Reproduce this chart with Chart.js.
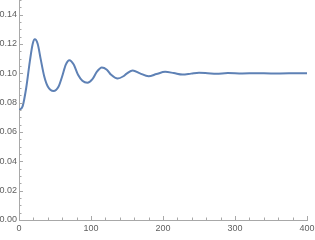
<!DOCTYPE html>
<html>
<head>
<meta charset="utf-8">
<script src="https://cdn.jsdelivr.net/npm/chart.js@4.4.1/dist/chart.umd.min.js"></script>
<style>
    html, body { margin: 0; padding: 0; background: #fff; }
    #wrap { width: 315px; height: 240px; }
</style>
</head>
<body>
<div id="wrap"><canvas id="plot"></canvas></div>
<script>
// Damped response
const timeValues = [0, 5, 10, 15, 19, 22, 26, 30, 35, 40, 48, 55, 60, 65, 70, 76, 82, 88, 95,
    102, 108, 115, 122, 128, 137, 145, 150, 158, 168, 180, 191, 203, 215, 227, 239, 250,
    262, 274, 290, 310, 330, 350, 375, 400];
const responseValues = [0.0750, 0.0775, 0.0900, 0.1080, 0.1200, 0.1232, 0.1200, 0.1100, 0.0980,
    0.0910, 0.0879, 0.0910, 0.0980, 0.1060, 0.1090, 0.1060, 0.0990, 0.0950, 0.0936,
    0.0960, 0.1010, 0.1040, 0.1025, 0.0990, 0.0964, 0.0980, 0.1000, 0.1020, 0.1000,
    0.0980, 0.0995, 0.1010, 0.1002, 0.0992, 0.0998, 0.1004, 0.1001, 0.0997, 0.1002,
    0.0999, 0.1001, 0.0999, 0.1000, 0.1000];

const xLabelStep = 100;
const xMinorStep = 20;
const yLabelStep = 0.02;
const yMinorStep = 0.005;

const axisGray = '#a8a8a8';
const labelGray = '#606060';

// Mathematica style ticks: drawn inward, major + minor
const inwardTicks = {
    id: 'inwardTicks',
    afterDraw(chart) {
        const ctx = chart.ctx;
        const area = chart.chartArea;
        const xs = chart.scales.x;
        const ys = chart.scales.y;
        ctx.save();
        ctx.strokeStyle = axisGray;
        ctx.lineWidth = 1;
        const nx = Math.round((xs.max - xs.min) / xMinorStep);
        for (let i = 0; i <= nx; i++) {
            const v = xs.min + i * xMinorStep;
            const major = Math.round(v) % xLabelStep === 0;
            const px = Math.round(xs.getPixelForValue(v)) + 0.5;
            ctx.beginPath();
            ctx.moveTo(px, area.bottom);
            ctx.lineTo(px, area.bottom - (major ? 4 : 2.5));
            ctx.stroke();
        }
        const ny = Math.round((ys.max - ys.min) / yMinorStep);
        for (let i = 0; i <= ny; i++) {
            const v = ys.min + i * yMinorStep;
            const major = Math.round(v * 1000) % Math.round(yLabelStep * 1000) === 0;
            const py = Math.round(ys.getPixelForValue(v)) + 0.5;
            ctx.beginPath();
            ctx.moveTo(area.left, py);
            ctx.lineTo(area.left + (major ? 4 : 2.5), py);
            ctx.stroke();
        }
        ctx.restore();
    }
};

const ctx = document.getElementById('plot').getContext('2d');
new Chart(ctx, {
    type: 'line',
    data: {
        datasets: [{
            data: timeValues.map((t, i) => ({ x: t, y: responseValues[i] })),
            borderColor: '#5e81b5',
            borderWidth: 2,
            pointRadius: 0,
            cubicInterpolationMode: 'monotone',
            fill: false
        }]
    },
    options: {
        responsive: true,
        maintainAspectRatio: false,
        animation: false,
        layout: { padding: 0, autoPadding: false },
        plugins: {
            legend: { display: false },
            tooltip: { enabled: false }
        },
        scales: {
            x: {
                type: 'linear',
                min: 0,
                max: 400,
                grid: { drawOnChartArea: false, drawTicks: false },
                border: { color: axisGray, width: 1 },
                ticks: {
                    stepSize: xLabelStep,
                    padding: 3,
                    maxRotation: 0,
                    autoSkip: false,
                    color: labelGray,
                    font: { family: 'Liberation Sans', size: 9 },
                    callback: v => String(v)
                },
                afterFit(scale) {
                    scale.height = 20;
                    scale.paddingRight = 8;
                }
            },
            y: {
                min: 0,
                max: 0.15,
                grid: { drawOnChartArea: false, drawTicks: false },
                border: { color: axisGray, width: 1 },
                ticks: {
                    stepSize: yMinorStep,
                    maxTicksLimit: 100,
                    padding: 2,
                    autoSkip: false,
                    color: labelGray,
                    font: { family: 'Liberation Sans', size: 9 },
                    callback: v => (Math.round(v * 1000) % Math.round(yLabelStep * 1000) === 0 ? v.toFixed(2) : null)
                },
                afterFit(scale) {
                    scale.width = 19;
                    scale.paddingTop = 0;
                    scale.paddingBottom = 0;
                }
            }
        }
    },
    plugins: [inwardTicks]
});
</script>
</body>
</html>
